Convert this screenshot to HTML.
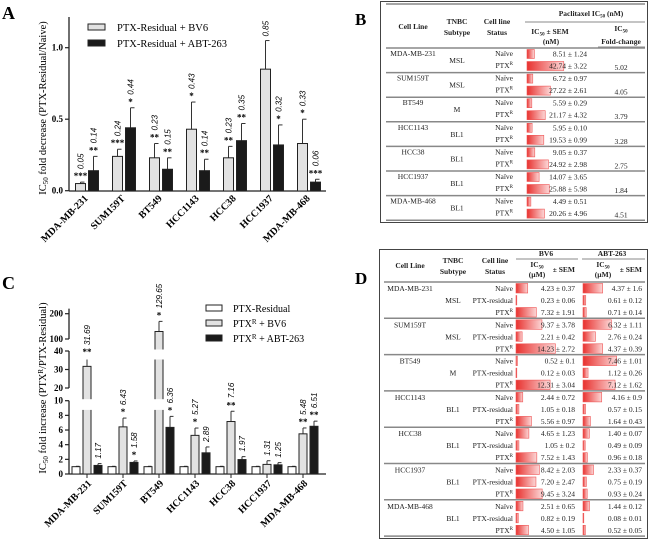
<!DOCTYPE html>
<html><head><meta charset="utf-8"><style>
html,body{margin:0;padding:0;background:#fff;}
svg{display:block;}
.lbl{font-family:"Liberation Serif",serif;font-weight:bold;}
.tick{font-family:"Liberation Serif",serif;font-weight:bold;font-size:9px;}
.val{font-family:"Liberation Sans",sans-serif;font-style:italic;font-size:8px;}
.tb{font-family:"Liberation Serif",serif;font-size:7.5px;fill:#222;}
.th{font-family:"Liberation Serif",serif;font-size:7.5px;font-weight:bold;fill:#222;}
</style></head><body>
<svg id="fig" width="650" height="541" viewBox="0 0 650 541" xmlns="http://www.w3.org/2000/svg">
<defs>
<linearGradient id="rg" x1="0" x2="1" y1="0" y2="0"><stop offset="0" stop-color="#e8322f"/><stop offset="1" stop-color="#fcd6d6"/></linearGradient>
</defs>
<text x="2" y="19" class="lbl" font-size="18">A</text>
<text x="2" y="289" class="lbl" font-size="18">C</text>
<text x="355" y="25" class="lbl" font-size="17">B</text>
<text x="355" y="284" class="lbl" font-size="17">D</text>
<g id="chartA"></g>
<g id="chartC"></g>
<g id="tableB"></g>
<g id="tableD"></g>
</svg>
<script>
const cats = ["MDA-MB-231","SUM159T","BT549","HCC1143","HCC38","HCC1937","MDA-MB-468"];
const aBV6 = [0.05,0.24,0.23,0.43,0.23,0.85,0.33];
const aBV6Err = [0.01,0.05,0.10,0.19,0.08,0.20,0.17];
const aABT = [0.14,0.44,0.15,0.14,0.35,0.32,0.06];
const aABTErr = [0.10,0.14,0.08,0.08,0.12,0.14,0.02];
const aBV6Sig = ["***","***","**","*","**","","*"];
const aABTSig = ["**","*","**","**","**","*","***"];
const aTicks = [0,0.5,1.0];
const aTickLabels = ["0.0","0.5","1.0"];
const cRes = [1,1,1,1,1,1,1];
const cBV6 = [31.69,6.43,129.65,5.27,7.16,1.31,5.48];
const cBV6Err = [4.5,1.2,40,1.0,1.4,0.5,0.8];
const cABT = [1.17,1.58,6.36,2.89,1.97,1.25,6.51];
const cABTErr = [0.25,0.2,1.5,0.8,0.4,0.3,0.7];
const cBV6Sig = ["**","*","*","*","**","","**"];
const cABTSig = ["","*","*","","","","**"];
const cTicks = [0,2,4,6,8,10,20,30,40,100,200];
const bSub = ["MSL","MSL","M","BL1","BL1","BL1","BL1"];
const bNaive = [8.51,6.72,5.59,5.95,9.05,14.07,4.49];
const bNaiveSem = ["1.24","0.97","0.29","0.10","0.37","3.65","0.51"];
const bPtx = [42.74,27.22,21.17,19.53,24.92,25.88,20.26];
const bPtxSem = ["3.22","2.61","4.32","0.99","2.98","5.98","4.96"];
const bFold = ["5.02","4.05","3.79","3.28","2.75","1.84","4.51"];
const dBV6 = [[4.23,0.23,7.32],[9.37,2.21,14.23],[0.52,0.12,12.31],[2.44,1.05,5.56],[4.65,1.05,7.52],[8.42,7.20,9.45],[2.51,0.82,4.50]];
const dBV6Sem = [["0.37","0.06","1.91"],["3.78","0.42","2.72"],["0.1","0.03","3.04"],["0.72","0.18","0.97"],["1.23","0.2","1.43"],["2.03","2.47","3.24"],["0.65","0.19","1.05"]];
const dABT = [[4.37,0.61,0.71],[6.32,2.76,4.37],[7.46,1.12,7.12],[4.16,0.57,1.64],[1.40,0.49,0.96],[2.33,0.75,0.93],[1.44,0.08,0.52]];
const dABTSem = [["1.6","0.12","0.14"],["1.11","0.24","0.39"],["1.01","0.26","1.62"],["0.9","0.15","0.43"],["0.07","0.09","0.18"],["0.37","0.19","0.24"],["0.12","0.01","0.05"]];
const dStatus = ["Naïve","PTX-residual","PTXR"];

const NS="http://www.w3.org/2000/svg";
function mk(p,tag,at,txt){const e=document.createElementNS(NS,tag);for(const k in at)e.setAttribute(k,at[k]);if(txt!==undefined)e.textContent=txt;p.appendChild(e);return e;}

// ---------- Chart A ----------
(function(){
const g=document.getElementById('chartA');
const y=v=>190.7-143*v;
const x0=69, gx=i=>80.5+37*i;
mk(g,'line',{x1:x0,y1:17,x2:x0,y2:191,stroke:'#222','stroke-width':1.3});
mk(g,'line',{x1:x0,y1:191,x2:326,y2:191,stroke:'#222','stroke-width':1.3});
aTicks.forEach((t,i)=>{
 mk(g,'line',{x1:x0-4,y1:y(t),x2:x0,y2:y(t),stroke:'#222','stroke-width':1.2});
 const tl=mk(g,'text',{x:x0-6,y:y(t)+3,'text-anchor':'end',class:'tick'},aTickLabels[i]);
 
 
});
const yt=mk(g,'text',{transform:'translate(46,108) rotate(-90)','text-anchor':'middle',class:'lbl','font-size':'10.5','style':'font-weight:normal'});
yt.innerHTML='IC<tspan font-size="7" dy="2">50</tspan><tspan dy="-2"> fold decrease (PTX-Residual/Naive)</tspan>';


function bar(cx,v,e,fill,sig,label,name){
 const w=10;
 const et=y(v+e);
 mk(g,'line',{x1:cx,y1:y(v),x2:cx,y2:et,stroke:'#333','stroke-width':1});
 mk(g,'line',{x1:cx,y1:et,x2:cx+4,y2:et,stroke:'#333','stroke-width':1});
 const r=mk(g,'rect',{x:cx-w/2,y:y(v),width:w,height:191-y(v),fill:fill,stroke:'#222','stroke-width':1});
 
 
 if(sig) mk(g,'text',{x:cx,y:et-3,'text-anchor':'middle','font-size':'9',class:'lbl'},sig);
 const vt=mk(g,'text',{transform:`translate(${cx+3},${et-(sig?13:4)}) rotate(-90)`,class:'val'},label);
 
 
}
cats.forEach((c,i)=>{
 bar(gx(i),aBV6[i],aBV6Err[i],'#e2e2e2',aBV6Sig[i],aBV6[i].toFixed(2),'bar-bv6');
 bar(gx(i)+13,aABT[i],aABTErr[i],'#1a1a1a',aABTSig[i],aABT[i].toFixed(2),'bar-abt263');
 const t=mk(g,'text',{transform:`translate(${gx(i)+8},199) rotate(-45)`,'text-anchor':'end',class:'lbl','font-size':'10'},c);
 
 
});
const l1=mk(g,'g',{});
mk(l1,'rect',{x:88,y:24,width:17,height:6,fill:'#e2e2e2',stroke:'#222'});
mk(l1,'text',{x:117,y:31,class:'lbl','font-size':'10.5',style:'font-weight:normal'},'PTX-Residual + BV6');
const l2=mk(g,'g',{});
mk(l2,'rect',{x:88,y:40,width:17,height:6,fill:'#1a1a1a',stroke:'#222'});
mk(l2,'text',{x:117,y:47,class:'lbl','font-size':'10.5',style:'font-weight:normal'},'PTX-Residual + ABT-263');
})();

// ---------- Chart C ----------
(function(){
const g=document.getElementById('chartC');
const y=v=>v<=10?474-7.33*v:(v<=40?388-(v-20)*1.85:339-(v-100)*0.253);
const x0=69, gx=i=>87+36*i;
mk(g,'line',{x1:x0,y1:474,x2:326,y2:474,stroke:'#222','stroke-width':1.3});
const labels=[];
function bar(cx,v,e,fill,sig,label,name){
 const w=8;
 const et=e?y(v+e):null;
 if(e){mk(g,'line',{x1:cx,y1:y(v),x2:cx,y2:et,stroke:'#333'});mk(g,'line',{x1:cx,y1:et,x2:cx+3.5,y2:et,stroke:'#333'});}
 const r=mk(g,'rect',{x:cx-w/2,y:y(v),width:w,height:474-y(v),fill:fill,stroke:'#222','stroke-width':1});
 
 
 if(label) labels.push([cx,et,sig,label]);
}
cats.forEach((c,i)=>{
 bar(gx(i)-11,cRes[i],0.05,'#ffffff','','', 'bar-ptx-residual');
 bar(gx(i),cBV6[i],cBV6Err[i],'#e2e2e2',cBV6Sig[i],cBV6[i].toFixed(2),'bar-ptxr-bv6');
 bar(gx(i)+11,cABT[i],cABTErr[i],'#1a1a1a',cABTSig[i],cABT[i].toFixed(2),'bar-ptxr-abt263');
 mk(g,'line',{x1:gx(i),y1:474,x2:gx(i),y2:478,stroke:'#222'});
 const t=mk(g,'text',{transform:`translate(${gx(i)+5},484) rotate(-45)`,'text-anchor':'end',class:'lbl','font-size':'10'},c);
 
 
});
// breaks
mk(g,'rect',{x:62,y:y(10)-1.5,width:264,height:y(10)-y(20)-2,fill:'#fff'});
mk(g,'rect',{x:62,y:y(40)-1.5,width:264,height:y(40)-y(100)-2,fill:'#fff'});
[[0,10],[20,40],[100,220]].forEach(s=>mk(g,'line',{x1:x0,y1:y(s[0]),x2:x0,y2:y(s[1]),stroke:'#222','stroke-width':1.3}));
labels.forEach(l=>{
 const [cx,et,sig,label]=l;
 if(sig) mk(g,'text',{x:cx,y:et-3,'text-anchor':'middle','font-size':'9',class:'lbl'},sig);
 const vt=mk(g,'text',{transform:`translate(${cx+3},${et-(sig?13:5)}) rotate(-90)`,class:'val'},label);
 
 
});
cTicks.forEach(t=>{
 mk(g,'line',{x1:x0-4,y1:y(t),x2:x0,y2:y(t),stroke:'#222','stroke-width':1.2});
 const tl=mk(g,'text',{x:x0-6,y:y(t)+3,'text-anchor':'end',class:'tick'},String(t));
 
 
});
const yt=mk(g,'text',{transform:'translate(46,388) rotate(-90)','text-anchor':'middle',class:'lbl','font-size':'10.5',style:'font-weight:normal'});
yt.innerHTML='IC<tspan font-size="7" dy="2">50</tspan><tspan dy="-2"> fold increase (PTX</tspan><tspan font-size="7" dy="-3">R</tspan><tspan dy="3">/PTX-Residual)</tspan>';


const leg=[['#ffffff','PTX-Residual',''],['#e2e2e2','PTX','+ BV6'],['#1a1a1a','PTX','+ ABT-263']];
leg.forEach((l,i)=>{
 const e=mk(g,'g',{});
 
 
 mk(e,'rect',{x:206,y:305+15*i,width:16,height:6,fill:l[0],stroke:'#222'});
 const t=mk(e,'text',{x:233,y:312+15*i,class:'lbl','font-size':'10',style:'font-weight:normal'});
 t.innerHTML=l[2]?`${l[1]}<tspan font-size="7" dy="-3">R</tspan><tspan dy="3"> ${l[2]}</tspan>`:l[1];
});
})();

// ---------- Table B ----------
(function(){
const g=document.getElementById('tableB');
mk(g,'rect',{x:380.5,y:1.5,width:267,height:221,fill:'none',stroke:'#444','stroke-width':1});
mk(g,'line',{x1:386,y1:4,x2:645,y2:4,stroke:'#888','stroke-width':1.5});
mk(g,'text',{x:591,y:16,'text-anchor':'middle',class:'th'}).innerHTML='Paclitaxel IC<tspan font-size="5" dy="1.5">50</tspan><tspan dy="-1.5"> (nM)</tspan>';
mk(g,'line',{x1:525,y1:22,x2:645,y2:22,stroke:'#888','stroke-width':1});
mk(g,'text',{x:413,y:29,'text-anchor':'middle',class:'th'},'Cell Line');
mk(g,'text',{x:457,y:24,'text-anchor':'middle',class:'th'},'TNBC');
mk(g,'text',{x:457,y:35,'text-anchor':'middle',class:'th'},'Subtype');
mk(g,'text',{x:497,y:24,'text-anchor':'middle',class:'th'},'Cell line');
mk(g,'text',{x:497,y:35,'text-anchor':'middle',class:'th'},'Status');
mk(g,'text',{x:550,y:34,'text-anchor':'middle',class:'th'}).innerHTML='IC<tspan font-size="5" dy="1.5">50</tspan><tspan dy="-1.5"> ± SEM</tspan>';
mk(g,'text',{x:551,y:44,'text-anchor':'middle',class:'th'},'(nM)');
mk(g,'text',{x:621,y:31,'text-anchor':'middle',class:'th'}).innerHTML='IC<tspan font-size="5" dy="1.5">50</tspan>';
mk(g,'text',{x:621,y:44,'text-anchor':'middle',class:'th'},'Fold-change');
mk(g,'line',{x1:598,y1:47,x2:645,y2:47,stroke:'#888','stroke-width':1});
mk(g,'line',{x1:386,y1:48,x2:645,y2:48,stroke:'#888','stroke-width':1.5});
const s=0.86;
cats.forEach((c,i)=>{
 const top=48+24.6*i;
 const row=mk(g,'g',{});
 
 
 mk(row,'text',{x:413,y:top+8,'text-anchor':'middle',class:'tb'},c);
 mk(row,'text',{x:457,y:top+15,'text-anchor':'middle',class:'tb'},bSub[i]);
 mk(row,'text',{x:513,y:top+8,'text-anchor':'end',class:'tb'},'Naïve');
 mk(row,'text',{x:513,y:top+20,'text-anchor':'end',class:'tb'}).innerHTML='PTX<tspan font-size="5" dy="-3">R</tspan>';
 const b1=mk(row,'rect',{x:527,y:top+1.5,width:bNaive[i]*s,height:9,fill:'url(#rg)',stroke:'#e55','stroke-width':0.6});
 
 
 const b2=mk(row,'rect',{x:527,y:top+13.5,width:bPtx[i]*s,height:9,fill:'url(#rg)',stroke:'#e55','stroke-width':0.6});
 
 
 mk(row,'text',{x:587,y:top+8.5,'text-anchor':'end',class:'tb'},bNaive[i].toFixed(2)+' ± '+bNaiveSem[i]);
 mk(row,'text',{x:587,y:top+20.5,'text-anchor':'end',class:'tb'},bPtx[i].toFixed(2)+' ± '+bPtxSem[i]);
 mk(row,'text',{x:621,y:top+22,'text-anchor':'middle',class:'tb'},bFold[i]);
 mk(g,'line',{x1:386,y1:top+24.6,x2:645,y2:top+24.6,stroke:'#888','stroke-width':1.5});
});
})();

// ---------- Table D ----------
(function(){
const g=document.getElementById('tableD');
mk(g,'rect',{x:379.5,y:249.5,width:268,height:289,fill:'none',stroke:'#444','stroke-width':1});
mk(g,'text',{x:410,y:268,'text-anchor':'middle',class:'th'},'Cell Line');
mk(g,'text',{x:453,y:263,'text-anchor':'middle',class:'th'},'TNBC');
mk(g,'text',{x:453,y:274,'text-anchor':'middle',class:'th'},'Subtype');
mk(g,'text',{x:495,y:263,'text-anchor':'middle',class:'th'},'Cell line');
mk(g,'text',{x:495,y:274,'text-anchor':'middle',class:'th'},'Status');
mk(g,'text',{x:546,y:256,'text-anchor':'middle',class:'th'},'BV6');
mk(g,'text',{x:612,y:256,'text-anchor':'middle',class:'th'},'ABT-263');
mk(g,'line',{x1:516,y1:259,x2:578,y2:259,stroke:'#888','stroke-width':1});
mk(g,'line',{x1:582,y1:259,x2:645,y2:259,stroke:'#888','stroke-width':1});
[[537,575],[603,642]].forEach(p=>{
 mk(g,'text',{x:p[0],y:267,'text-anchor':'middle',class:'th'}).innerHTML='IC<tspan font-size="5" dy="1.5">50</tspan><tspan dy="-1.5"> </tspan>';
 mk(g,'text',{x:p[0],y:277,'text-anchor':'middle',class:'th'},'(µM)');
 mk(g,'text',{x:p[1],y:272,'text-anchor':'end',class:'th'},'± SEM');
});
mk(g,'line',{x1:384,y1:282,x2:645,y2:282,stroke:'#888','stroke-width':1.5});
cats.forEach((c,i)=>{
 const top=282+36.3*i;
 const row=mk(g,'g',{});
 
 
 mk(row,'text',{x:410,y:top+9,'text-anchor':'middle',class:'tb'},c);
 mk(row,'text',{x:453,y:top+21,'text-anchor':'middle',class:'tb'},bSub[i]);
 for(let k=0;k<3;k++){
  const ry=top+12*k;
  const st=mk(row,'text',{x:513,y:ry+9,'text-anchor':'end',class:'tb'});
  if(k===2) st.innerHTML='PTX<tspan font-size="5" dy="-3">R</tspan>'; else st.textContent=dStatus[k];
  const b1=mk(row,'rect',{x:516,y:ry+1.5,width:Math.max(dBV6[i][k]*2.77,0.8),height:9.5,fill:'url(#rg)',stroke:'#e55','stroke-width':0.6});
  
  
  const b2=mk(row,'rect',{x:583,y:ry+1.5,width:Math.max(dABT[i][k]*4.5,0.8),height:9.5,fill:'url(#rg)',stroke:'#e55','stroke-width':0.6});
  
  
  mk(row,'text',{x:575,y:ry+9,'text-anchor':'end',class:'tb'},dBV6[i][k].toFixed(2)+' ± '+dBV6Sem[i][k]);
  mk(row,'text',{x:642,y:ry+9,'text-anchor':'end',class:'tb'},(i===0&&k===0?'4.37':dABT[i][k].toFixed(2))+' ± '+dABTSem[i][k]);
 }
 mk(g,'line',{x1:384,y1:top+36.3,x2:645,y2:top+36.3,stroke:'#888','stroke-width':1.5});
});
})();
</script>
</body></html>
